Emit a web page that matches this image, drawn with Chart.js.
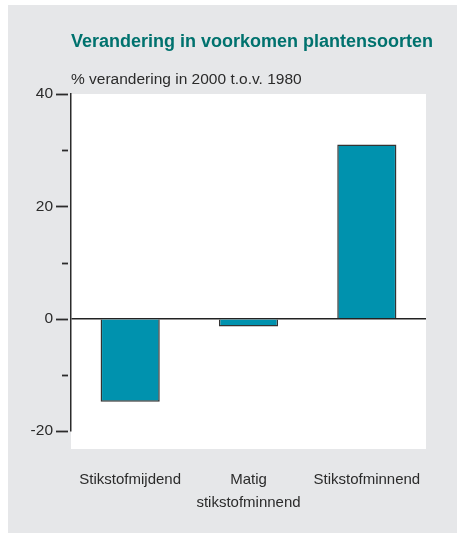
<!DOCTYPE html>
<html>
<head>
<meta charset="utf-8">
<script src="https://cdn.jsdelivr.net/npm/chart.js@4"></script>
<style>
  html, body { margin: 0; padding: 0; background: #ffffff; }
  canvas { display: block; }
</style>
</head>
<body>
<canvas id="c" width="457" height="533"></canvas>
<script>
const titleText = 'Verandering in voorkomen plantensoorten';
const subtitleText = '% verandering in 2000 t.o.v. 1980';
const categories = ['Stikstofmijdend', ['Matig', 'stikstofminnend'], 'Stikstofminnend'];
const changeValues = [-14.8, -1.4, 31.0];
const yMin = -20;
const yMax = 40;
const yStep = 10;
const labelEvery = 20;

const FONT = "'Liberation Sans', Arial, sans-serif";

const decor = {
  id: 'decor',
  beforeDraw(chart) {
    const ctx = chart.ctx;
    const a = chart.chartArea;
    ctx.save();
    ctx.fillStyle = '#e6e7e9';
    ctx.fillRect(8, 5, chart.width - 8, chart.height - 5);
    ctx.fillStyle = '#ffffff';
    ctx.fillRect(a.left, a.top, a.right - a.left, a.bottom - a.top + 18);
    ctx.fillStyle = '#00726e';
    ctx.font = "bold 18px " + FONT;
    ctx.textBaseline = 'middle';
    ctx.textAlign = 'left';
    ctx.fillText(titleText, a.left, 42);
    ctx.fillStyle = '#2b2b2b';
    ctx.font = "15.5px " + FONT;
    ctx.fillText(subtitleText, a.left, 80);
    ctx.restore();
  },
  afterDraw(chart) {
    const ctx = chart.ctx;
    const y = chart.scales.y;
    const a = chart.chartArea;
    ctx.save();
    ctx.strokeStyle = '#2b2b2b';
    ctx.lineWidth = 1.8;
    y.ticks.forEach(t => {
      const py = Math.round(y.getPixelForValue(t.value)) + 0.5;
      const major = t.value % labelEvery === 0;
      ctx.beginPath();
      if (major) { ctx.moveTo(a.left - 15, py); ctx.lineTo(a.left - 3, py); }
      else { ctx.moveTo(a.left - 9, py); ctx.lineTo(a.left - 3, py); }
      ctx.stroke();
    });
    ctx.restore();
  }
};

new Chart(document.getElementById('c'), {
  type: 'bar',
  data: {
    labels: categories,
    datasets: [{
      data: changeValues,
      backgroundColor: '#0092ae',
      borderColor: '#333333',
      borderWidth: 1.5,
      barPercentage: 0.5,
      categoryPercentage: 1.0
    }]
  },
  options: {
    responsive: false,
    animation: false,
    devicePixelRatio: 1,
    layout: { padding: { top: 94, right: 31, left: 0, bottom: 0 } },
    plugins: { legend: { display: false }, tooltip: { enabled: false } },
    scales: {
      x: {
        grid: { display: false },
        border: { display: false },
        ticks: {
          color: '#2b2b2b',
          font: { family: FONT, size: 15, lineHeight: 1.5 },
          padding: 30,
          maxRotation: 0,
          autoSkip: false
        },
        afterFit(s) { s.height = 102; }
      },
      y: {
        min: yMin,
        max: yMax,
        grid: {
          drawTicks: false,
          color: ctx => (ctx.tick && ctx.tick.value === 0) ? '#222222' : 'rgba(0,0,0,0)',
          lineWidth: 1.5
        },
        border: { display: true, color: '#2b2b2b', width: 1.5 },
        ticks: {
          stepSize: yStep,
          color: '#2b2b2b',
          font: { family: FONT, size: 15.5 },
          padding: 18,
          callback: v => (v % labelEvery === 0 ? String(v) : '')
        },
        afterFit(s) { s.width = 71; }
      }
    }
  },
  plugins: [decor]
});
</script>
</body>
</html>
